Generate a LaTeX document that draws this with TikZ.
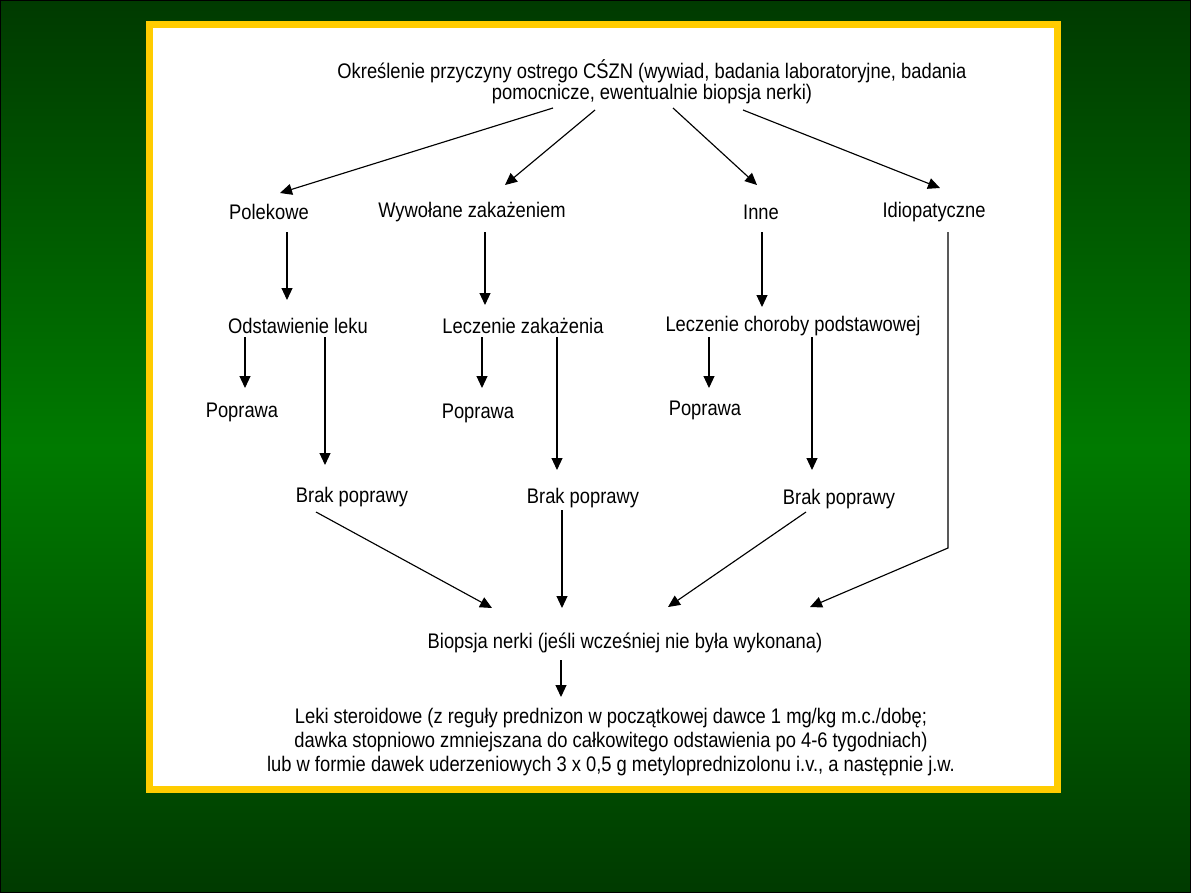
\documentclass[tikz,border=0pt]{standalone}
\usepackage{fontspec}
\setmainfont{Liberation Sans}[FakeStretch=0.87]
\usetikzlibrary{arrows.meta,calc}
\definecolor{bgdark}{RGB}{0,58,0}
\definecolor{bglight}{RGB}{0,122,0}
\definecolor{framegold}{RGB}{255,204,0}
\tikzset{
  steptext/.style={font=\fontsize{12}{13.5}\selectfont, inner sep=0pt, align=center, text=black},
  flowarrow/.style={line width=0.65pt, draw=black, -{Triangle[length=0.24cm,width=0.22cm]}},
}

\begin{document}
\begin{tikzpicture}[x=0.02cm, y=-0.02cm]
\useasboundingbox (0,0) rectangle (1191,893);
% background and panel
\shade[top color=bgdark, bottom color=bgdark, middle color=bglight] (0,0) rectangle (1191,893);
\draw[black, line width=1pt] (0,0) rectangle (1191,893);
\fill[white] (149.5,24.5) rectangle (1057.5,789.5);
\draw[framegold, line width=0.14cm] (149.5,24.5) rectangle (1057.5,789.5);

% texts
\node[steptext] (cause) at (652,82) {Określenie przyczyny ostrego CŚZN (wywiad, badania laboratoryjne, badania\\[-1.6pt] pomocnicze, ewentualnie biopsja nerki)};
\node[steptext] (pol) at (269,212) {Polekowe};
\node[steptext] (wyw) at (472,212) {Wywołane zakażeniem};
\node[steptext] (inne) at (761,212) {Inne};
\node[steptext] (idio) at (934,212) {Idiopatyczne};
\node[steptext] (odst) at (298,326) {Odstawienie leku};
\node[steptext] (lzak) at (523,326) {Leczenie zakażenia};
\node[steptext] (lcho) at (793,326) {Leczenie choroby podstawowej};
\node[steptext] (pop1) at (242,412) {Poprawa};
\node[steptext] (pop2) at (478,413) {Poprawa};
\node[steptext] (pop3) at (705,410) {Poprawa};
\node[steptext] (brak1) at (352,497) {Brak poprawy};
\node[steptext] (brak2) at (583,498) {Brak poprawy};
\node[steptext] (brak3) at (839,499) {Brak poprawy};
\node[steptext] (biop) at (625,643) {Biopsja nerki (jeśli wcześniej nie była wykonana)};
\node[steptext] (leki) at (611,742) {Leki steroidowe (z reguły prednizon w początkowej dawce 1 mg/kg m.c./dobę;\\ dawka stopniowo zmniejszana do całkowitego odstawienia po 4-6 tygodniach)\\ lub w formie dawek uderzeniowych 3 x 0,5 g metyloprednizolonu i.v., a następnie j.w.};
\coordinate (bend) at (948,548);

% arrows
\draw[flowarrow] ($(cause)+(-99,26)$) -- ($(pol)+(11,-19)$);
\draw[flowarrow] ($(cause)+(-57,28)$) -- ($(wyw)+(33,-27)$);
\draw[flowarrow] ($(cause)+(21,26)$) -- ($(inne)+(-4,-27)$);
\draw[flowarrow] ($(cause)+(91,28)$) -- ($(idio)+(6,-24)$);
\draw[flowarrow] ($(pol)+(18,20)$) -- ($(odst)+(-11,-26)$);
\draw[flowarrow] ($(wyw)+(13,20)$) -- ($(lzak)+(-38,-21)$);
\draw[flowarrow] ($(inne)+(1,20)$) -- ($(lcho)+(-31,-19)$);
\draw[flowarrow] ($(idio)+(14,20)$) -- (bend) -- ($(biop)+(185,-36)$);
\draw[flowarrow] ($(odst)+(-53,11)$) -- ($(pop1)+(3,-24)$);
\draw[flowarrow] ($(odst)+(27,11)$) -- ($(brak1)+(-27,-32)$);
\draw[flowarrow] ($(lzak)+(-41,11)$) -- ($(pop2)+(4,-25)$);
\draw[flowarrow] ($(lzak)+(34,11)$) -- ($(brak2)+(-26,-28)$);
\draw[flowarrow] ($(lcho)+(-84,11)$) -- ($(pop3)+(4,-22)$);
\draw[flowarrow] ($(lcho)+(19,11)$) -- ($(brak3)+(-27,-29)$);
\draw[flowarrow] ($(brak1)+(-36,15)$) -- ($(biop)+(-133,-35)$);
\draw[flowarrow] ($(brak2)+(-21,12)$) -- ($(biop)+(-63,-35)$);
\draw[flowarrow] ($(brak3)+(-33,13)$) -- ($(biop)+(43,-36)$);
\draw[flowarrow] ($(biop)+(-64,17)$) -- ($(leki)+(-50,-45)$);
\end{tikzpicture}
\end{document}
